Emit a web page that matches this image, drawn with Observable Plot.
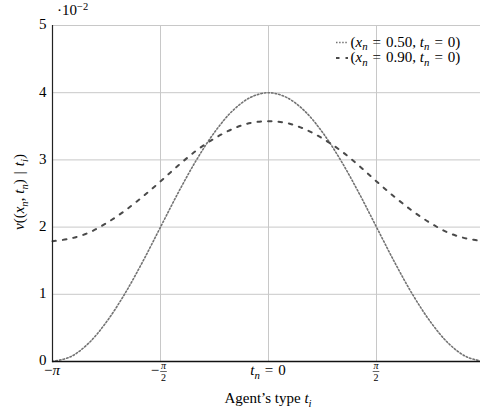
<!DOCTYPE html>
<html><head><meta charset="utf-8">
<script src="https://cdn.jsdelivr.net/npm/d3@7"></script>
<script src="https://cdn.jsdelivr.net/npm/@observablehq/plot@0.6"></script>
<style>body{margin:0;background:#fff} svg{overflow:visible} svg text{font-family:"Liberation Serif","Times New Roman",serif !important;}</style>
</head><body><div id="chart"></div>
<script>
// t positions in units of pi/12
const steps = [-12,-11,-10,-9,-8,-7,-6,-5,-4,-3,-2,-1,0,1,2,3,4,5,6,7,8,9,10,11,12];
// values in units of 10^-2
const seriesA = [0.00,0.07,0.27,0.59,1.00,1.48,2.00,2.52,3.00,3.41,3.73,3.93,4.00,3.93,3.73,3.41,3.00,2.52,2.00,1.48,1.00,0.59,0.27,0.07,0.00]; // x_n=0.50
const seriesB = [1.79,1.83,1.915,2.06,2.24,2.45,2.68,2.92,3.14,3.32,3.46,3.55,3.575,3.55,3.46,3.32,3.14,2.92,2.68,2.45,2.24,2.06,1.915,1.83,1.79]; // x_n=0.90
const yTicks = [0,1,2,3,4,5];
const xTicks = [-Math.PI, -Math.PI/2, 0, Math.PI/2, Math.PI];
const seriesNames = ["0.50","0.90"];

const dataA = steps.map((k,i)=>({t:k*Math.PI/12, v:seriesA[i]}));
const dataB = steps.map((k,i)=>({t:k*Math.PI/12, v:seriesB[i]}));

const FONT = "'Liberation Serif', 'Times New Roman', serif";
const FS = 15;
const EQ = "\u2004=\u2004";
const plot = Plot.plot({
  width:480, height:418, marginLeft:52, marginRight:0, marginTop:25, marginBottom:57,
  x:{domain:[-Math.PI, Math.PI], range:[52,484], axis:null},
  y:{domain:[0,5], axis:null},
  style:{fontFamily:FONT, fontSize:FS+"px", background:"#fff", color:"#000"},
  marks:[
    Plot.gridY(yTicks.slice(1), {stroke:"#c8c8c8", strokeOpacity:1, strokeWidth:1}),
    Plot.gridX(xTicks.slice(1,4), {stroke:"#c8c8c8", strokeOpacity:1, strokeWidth:1}),
    Plot.line(dataA, {x:"t", y:"v", curve:"catmull-rom", stroke:"#737373", strokeWidth:1.6, strokeDasharray:"1.5 2.1"}),
    Plot.line(dataB, {x:"t", y:"v", curve:"catmull-rom", stroke:"#4a4a4a", strokeWidth:2, strokeDasharray:"3.5 7"}),
    Plot.ruleX([-Math.PI], {stroke:"#222", strokeWidth:1.2}),
    Plot.ruleY([0], {stroke:"#111", strokeWidth:1.4}),
    Plot.text(yTicks, {y:d=>d, frameAnchor:"left", dx:-6, dy:-1, textAnchor:"end", text:d=>String(d), fontSize:FS, fill:"#000", fontFamily:FONT})
  ]
});
document.getElementById("chart").append(plot);

const sx = v => plot.scale("x").apply(v);
const svg = d3.select(plot);
const g = svg.append("g").style("font-family", FONT).attr("fill","#000");

function rich(x, y, parts, size, anchor, transform){
  const t = g.append("text").attr("font-size", size).attr("text-anchor", anchor||"start");
  if (transform) t.attr("transform", transform); else t.attr("x",x).attr("y",y);
  let shift = 0;
  for (const p of parts){
    const ts = t.append("tspan").text(p.t);
    if (p.i) ts.attr("font-style","italic");
    let target = 0;
    if (p.sub){ target = size*0.25; ts.attr("font-size", size*0.72); }
    if (p.sup){ target = -size*0.36; ts.attr("font-size", size*0.7); }
    if (target !== shift){ ts.attr("dy", target - shift); shift = target; }
  }
  return t;
}

// x tick labels
const base = 375;
rich(sx(-Math.PI), base, [{t:"−"},{t:"π", i:true}], FS, "middle");
rich(sx(Math.PI), base, [{t:"π", i:true}], FS, "middle");
rich(sx(0), base, [{t:"t", i:true},{t:"n", i:true, sub:true},{t:EQ+"0"}], FS, "middle");
function frac(cx, neg){
  if (neg) g.append("text").attr("x", cx-5).attr("y", base).attr("font-size",FS).attr("text-anchor","middle").text("−");
  const fx = cx + (neg?3.5:0);
  g.append("text").attr("x", fx).attr("y", 369).attr("font-size",10).attr("font-style","italic").attr("text-anchor","middle").text("π");
  g.append("line").attr("x1", fx-3.3).attr("x2", fx+3.3).attr("y1",371.5).attr("y2",371.5).attr("stroke","#000").attr("stroke-width",0.6);
  g.append("text").attr("x", fx).attr("y", 380.5).attr("font-size",10).attr("text-anchor","middle").text("2");
}
frac(sx(-Math.PI/2), true);
frac(sx(Math.PI/2), false);

// axis titles
rich(sx(0), 403, [{t:"Agent’s type "},{t:"t", i:true},{t:"i", i:true, sub:true}], FS, "middle");
rich(0, 0, [{t:"v", i:true},{t:"(("},{t:"x", i:true},{t:"n", i:true, sub:true},{t:", "},{t:"t", i:true},{t:"n", i:true, sub:true},{t:")\u2004|\u2004"},{t:"t", i:true},{t:"i", i:true, sub:true},{t:")"}], FS, "middle", "translate(24,192) rotate(-90)");
rich(57, 15, [{t:"·10"},{t:"−2", sup:true}], FS, "start");

// legend
const leg = [{y:42.5, dash:"1.5 1.6", stroke:"#737373", w:1.6},{y:58, dash:"3.5 6", stroke:"#4a4a4a", w:2}];
leg.forEach((l,i)=>{
  g.append("line").attr("x1",336).attr("x2",348).attr("y1",l.y).attr("y2",l.y)
    .attr("stroke",l.stroke).attr("stroke-width",l.w).attr("stroke-dasharray",l.dash);
  rich(350.5, l.y+4, [{t:"("},{t:"x", i:true},{t:"n", i:true, sub:true},{t:EQ+seriesNames[i]+", "},{t:"t", i:true},{t:"n", i:true, sub:true},{t:EQ+"0)"}], FS, "start");
});
</script>
</body></html>
